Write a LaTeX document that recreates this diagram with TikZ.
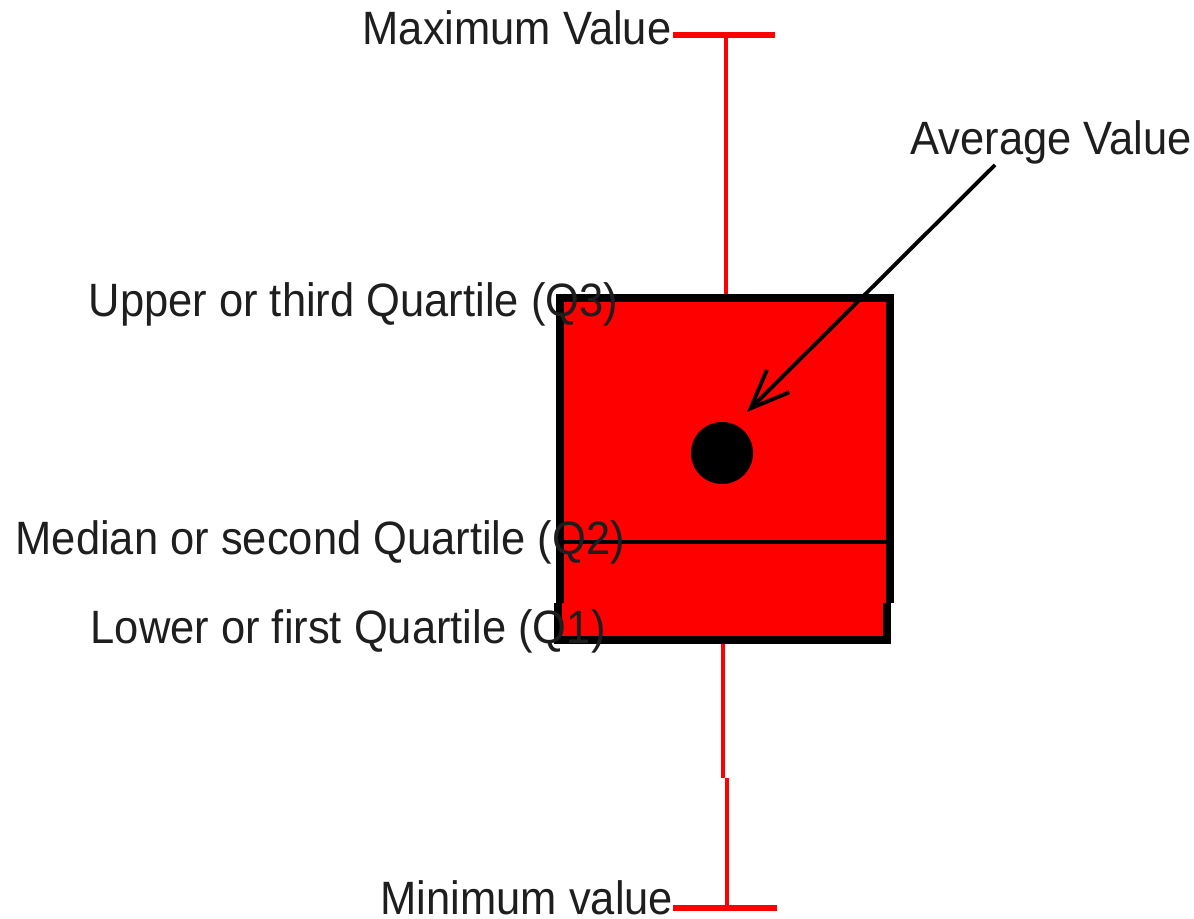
\documentclass[tikz,border=0pt]{standalone}
\usepackage{fontspec}
\setmainfont{Liberation Sans}[FakeStretch=0.93]
\usepackage{tikz}
\usetikzlibrary{arrows.meta,positioning}
\definecolor{box-red}{HTML}{FF0000}
\definecolor{label-dark}{HTML}{1E1E1E}

\begin{document}
\begin{tikzpicture}[x=0.01cm,y=-0.01cm,
  whisker/.style={box-red,line width=1.4pt},
  whiskercap/.style={box-red,line width=1.7pt},
  boxedge/.style={black,line width=2pt,line join=miter},
  plotlabel/.style={label-dark,anchor=base west,inner sep=0pt,font=\fontsize{13.3}{16}\selectfont}]
  \useasboundingbox (0,0) rectangle (1194,919);
  \coordinate (maxL) at (673,35);
  \coordinate (maxR) at (775,35);
  \coordinate (maxW) at (726,35);
  \coordinate (q3W) at (726,298);
  \coordinate (q1W) at (723,640);
  \coordinate (jogA) at (723,778);
  \coordinate (jogB) at (727,778);
  \coordinate (minW) at (727,908);
  \coordinate (minL) at (673,908);
  \coordinate (minR) at (777,908);
  \draw[whiskercap] (maxL) -- (maxR);
  \draw[whisker] (maxW) -- (q3W);
  \draw[whisker] (q1W) -- (jogA);
  \draw[whisker] (jogB) -- (minW);
  \draw[whiskercap] (minL) -- (minR);
  \fill[box-red] (560,298) rectangle (890,603);
  \fill[box-red] (558,603) rectangle (887,640);
  \draw[boxedge] (560,603) -- (560,298) -- (890,298) -- (890,603);
  \draw[boxedge] (558,603) -- (558,640) -- (887,640) -- (887,603);
  \draw[black,line width=1.4pt] (560,542) -- (890,542);
  \node[circle,fill=black,minimum size=0.62cm,inner sep=0pt] (avgdot) at (722,453) {};
  \coordinate (avgtail) at (995,165);
  \coordinate (avgtip) at (747,412);
  \draw[-{Straight Barb[length=11pt,width=9pt]},line width=1.1pt] (avgtail) -- (avgtip);
  \node[plotlabel] (maxlabel) at (362,45) {Maximum Value};
  \node[plotlabel] (avglabel) at (910,155) {Average Value};
  \node[plotlabel] (q3label) at (88,317) {Upper or third Quartile (Q3)};
  \node[plotlabel] (q2label) at (15,555) {Median or second Quartile (Q2)};
  \node[plotlabel] (q1label) at (90,643) {Lower or first Quartile (Q1)};
  \node[plotlabel] (minlabel) at (380,914) {Minimum value};
\end{tikzpicture}
\end{document}
